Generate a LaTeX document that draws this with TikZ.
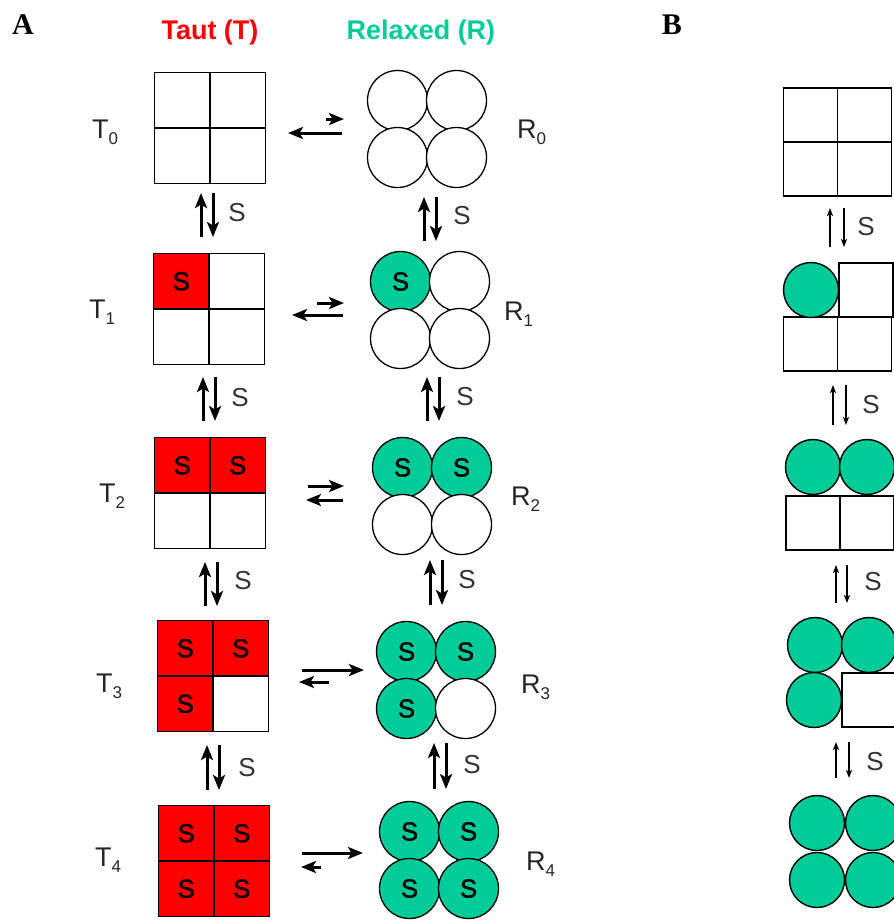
\documentclass[tikz,border=0pt]{standalone}
\usepackage{fontspec}
\setmainfont{Liberation Sans}
\newfontfamily\panelfont{Liberation Serif}
\newfontfamily\cellfont[FakeBold=1.6]{Liberation Sans}
\usetikzlibrary{arrows.meta}
\definecolor{tautred}{RGB}{255,0,0}
\definecolor{relaxgreen}{RGB}{0,204,153}
\tikzset{
  tcell/.style={draw, line width=1.6pt, minimum size=55.5pt, inner sep=0pt, fill=white,
    font=\cellfont\fontsize{26}{26}\selectfont},
  tfull/.style={fill=tautred, node contents={S}},
  tempty/.style={node contents={}},
  rcell/.style={draw, circle, line width=1.3pt, minimum size=60pt, inner sep=0pt, fill=white,
    font=\cellfont\fontsize{26}{26}\selectfont},
  rfull/.style={fill=relaxgreen, node contents={S}},
  rempty/.style={node contents={}},
  bcell/.style={draw, line width=1.8pt, minimum size=54pt, inner sep=0pt, fill=white},
  bball/.style={draw, circle, line width=1.4pt, minimum size=55pt, inner sep=0pt, fill=relaxgreen},
  bigarrow/.style={line width=3pt, -{Stealth[length=15pt,width=12pt,inset=3.5pt]}},
  smallarrow/.style={line width=1.5pt, -{Stealth[length=8pt,width=6pt,inset=2pt]}},
  slabel/.style={font=\fontsize{26}{26}\selectfont, text=black!80, inner sep=0pt},
  statelabel/.style={anchor=base west, inner sep=0pt, font=\fontsize{27}{27}\selectfont, text=black!85},
  heading/.style={font=\bfseries\fontsize{27}{27}\selectfont},
  panel/.style={font=\panelfont\bfseries\fontsize{30}{30}\selectfont}
}
% 2x2 block of square cells: name, centre x, centre y, styles TL TR BL BR
\newcommand\Tgrid[7]{%
  \node (#1-tl) at ({#2-27.75},{#3-27.75}) [tcell,#4];
  \node (#1-tr) at ({#2+27.75},{#3-27.75}) [tcell,#5];
  \node (#1-bl) at ({#2-27.75},{#3+27.75}) [tcell,#6];
  \node (#1-br) at ({#2+27.75},{#3+27.75}) [tcell,#7];
}
% 2x2 block of round subunits
\newcommand\Rgrid[7]{%
  \node (#1-tl) at ({#2-29.5},{#3-28.5}) [rcell,#4];
  \node (#1-tr) at ({#2+29.5},{#3-28.5}) [rcell,#5];
  \node (#1-bl) at ({#2-29.5},{#3+28.5}) [rcell,#6];
  \node (#1-br) at ({#2+29.5},{#3+28.5}) [rcell,#7];
}
% binding equilibrium: name, x up, x down, y top, y bottom, label x, label y, arrow style
\newcommand\VPair[8]{%
  \coordinate (#1-ub) at (#2,#5); \coordinate (#1-ut) at (#2,#4);
  \coordinate (#1-dt) at (#3,#4); \coordinate (#1-db) at (#3,#5);
  \draw[#8] (#1-ub) -- (#1-ut);
  \draw[#8] (#1-dt) -- (#1-db);
  \node[slabel] (#1-s) at (#6,#7) {S};
}
% single horizontal arrow between named ends
\newcommand\HArr[5]{%
  \coordinate (#1-s) at (#2,#3); \coordinate (#1-e) at (#4,#5);
  \draw[bigarrow] (#1-s) -- (#1-e);
}
\begin{document}
\begin{tikzpicture}[x=1pt,y=-1pt]
\clip (0,0) rectangle (894,922);
\fill[white] (0,0) rectangle (894,922);

% panel letters and column headings
\node[panel] (pa) at (23,25) {A};
\node[panel] (pb) at (672,25) {B};
\node[heading, text=tautred] (htaut) at (210,33) {Taut (T)};
\node[heading, text=relaxgreen] (hrel) at (421,33) {Relaxed (R)};

% ---- panel A: taut states
\Tgrid{t0}{210}{128}{tempty}{tempty}{tempty}{tempty}
\Tgrid{t1}{209}{309}{tfull}{tempty}{tempty}{tempty}
\Tgrid{t2}{210}{493}{tfull}{tfull}{tempty}{tempty}
\Tgrid{t3}{213}{676}{tfull}{tfull}{tfull}{tempty}
\Tgrid{t4}{214}{861}{tfull}{tfull}{tfull}{tfull}

% ---- panel A: relaxed states
\Rgrid{r0}{427}{129}{rempty}{rempty}{rempty}{rempty}
\Rgrid{r1}{430}{310}{rfull}{rempty}{rempty}{rempty}
\Rgrid{r2}{432}{496}{rfull}{rfull}{rempty}{rempty}
\Rgrid{r3}{436}{680}{rfull}{rfull}{rfull}{rempty}
\Rgrid{r4}{439}{860}{rfull}{rfull}{rfull}{rfull}

% state names
\node[statelabel] (lt0) at (92,138) {T\raisebox{-6pt}{\fontsize{17}{17}\selectfont 0}};
\node[statelabel] (lt1) at (89,318) {T\raisebox{-6pt}{\fontsize{17}{17}\selectfont 1}};
\node[statelabel] (lt2) at (99,502) {T\raisebox{-6pt}{\fontsize{17}{17}\selectfont 2}};
\node[statelabel] (lt3) at (96,692) {T\raisebox{-6pt}{\fontsize{17}{17}\selectfont 3}};
\node[statelabel] (lt4) at (95,866) {T\raisebox{-6pt}{\fontsize{17}{17}\selectfont 4}};
\node[statelabel] (lr0) at (517,138) {R\raisebox{-6pt}{\fontsize{17}{17}\selectfont 0}};
\node[statelabel] (lr1) at (504,320) {R\raisebox{-6pt}{\fontsize{17}{17}\selectfont 1}};
\node[statelabel] (lr2) at (511,505) {R\raisebox{-6pt}{\fontsize{17}{17}\selectfont 2}};
\node[statelabel] (lr3) at (521,693) {R\raisebox{-6pt}{\fontsize{17}{17}\selectfont 3}};
\node[statelabel] (lr4) at (526,870) {R\raisebox{-6pt}{\fontsize{17}{17}\selectfont 4}};

% T <-> R equilibria
\HArr{h0l}{342}{133}{288}{133}
\HArr{h0r}{326}{119}{344}{119}
\HArr{h1r}{317}{303}{344}{303}
\HArr{h1l}{343}{315}{292}{315}
\HArr{h2r}{308}{486}{344}{486}
\HArr{h2l}{343}{500}{306}{500}
\HArr{h3r}{302}{670}{364}{670}
\HArr{h3l}{329}{682}{299}{682}
\HArr{h4r}{302}{853}{363}{853}
\HArr{h4l}{321}{867}{301}{867}

% ligand binding steps
\VPair{vt01}{201}{213}{193}{237}{237}{213}{bigarrow}
\VPair{vt12}{203}{215}{377}{421}{240}{398}{bigarrow}
\VPair{vt23}{205}{217}{562}{606}{243}{581}{bigarrow}
\VPair{vt34}{207}{219}{745}{790}{247}{768}{bigarrow}
\VPair{vr01}{424}{436}{197}{241}{462}{216}{bigarrow}
\VPair{vr12}{427}{439}{377}{421}{465}{397}{bigarrow}
\VPair{vr23}{430}{442}{560}{605}{467}{580}{bigarrow}
\VPair{vr34}{434}{446}{743}{789}{472}{765}{bigarrow}

% ---- panel B: sequential model
\node[bcell] (b0-tl) at (810.5,115) {};
\node[bcell] (b0-tr) at (864.5,115) {};
\node[bcell] (b0-bl) at (810.5,169) {};
\node[bcell] (b0-br) at (864.5,169) {};

\node[bcell] (b1-tr) at (866,290) {};
\node[bcell] (b1-bl) at (810.5,344) {};
\node[bcell] (b1-br) at (864.5,344) {};
\node[bball] (b1-tl) at (811,290) {};

\node[bcell] (b2-bl) at (813,523) {};
\node[bcell] (b2-br) at (867,523) {};
\node[bball] (b2-tl) at (813,467) {};
\node[bball] (b2-tr) at (867,467) {};

\node[bcell] (b3-br) at (869,700) {};
\node[bball] (b3-tl) at (815,645) {};
\node[bball] (b3-tr) at (869,645) {};
\node[bball] (b3-bl) at (814,700) {};

\node[bball] (b4-tl) at (817,823) {};
\node[bball] (b4-tr) at (873,823) {};
\node[bball] (b4-bl) at (817,880) {};
\node[bball] (b4-br) at (873,880) {};

\VPair{vb01}{830}{844}{208}{247}{866}{227}{smallarrow}
\VPair{vb12}{833}{846}{385}{425}{871}{405}{smallarrow}
\VPair{vb23}{836}{847}{565}{603}{873}{582}{smallarrow}
\VPair{vb34}{836}{849}{742}{778}{875}{762}{smallarrow}
\end{tikzpicture}
\end{document}
